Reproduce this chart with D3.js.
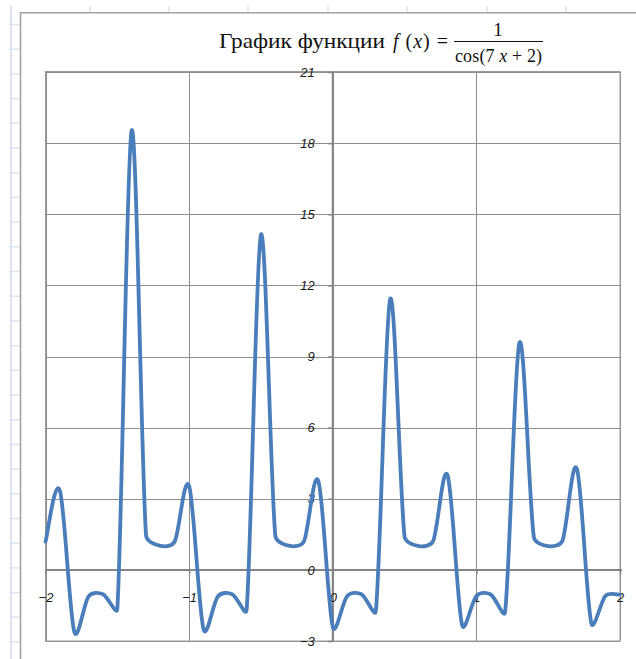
<!DOCTYPE html>
<html><head><meta charset="utf-8">
<script src="https://cdn.jsdelivr.net/npm/d3@7"></script>
<style>body{margin:0;background:#fff;}svg{display:block;}</style>
</head><body>
<svg id="c" width="636" height="659"></svg>
<script>
// Data: x step 0.1 from -2 to 2
const xValues = [-2,-1.9,-1.8,-1.7,-1.6,-1.5,-1.4,-1.3,-1.2,-1.1,-1,-0.9,-0.8,-0.7,-0.6,-0.5,-0.4,-0.3,-0.2,-0.1,0,0.1,0.2,0.3,0.4,0.5,0.6,0.7,0.8,0.9,1,1.1,1.2,1.3,1.4,1.5,1.6,1.7,1.8,1.9,2];
const yValues = [1.19,3.34,-2.60,-1.12,-1.03,-1.66,18.54,1.46,1.01,1.20,3.53,-2.50,-1.12,-1.03,-1.70,14.14,1.44,1.01,1.21,3.74,-2.40,-1.11,-1.03,-1.74,11.43,1.41,1.00,1.23,3.98,-2.32,-1.10,-1.04,-1.78,9.59,1.39,1.00,1.24,4.26,-2.24,-1.09,-1.04];
const yTicks = [-3,0,3,6,9,12,15,18,21];
const xTicks = [-2,-1,0,1,2];

const svg = d3.select("#c");

// spreadsheet background marks
const sheet = svg.append("g");
sheet.append("line").attr("x1",11).attr("x2",11).attr("y1",6).attr("y2",659)
  .attr("stroke","#dde3f0").attr("stroke-width",2);
d3.range(24.5, 659, 24.7).forEach(y=>{
  sheet.append("line").attr("x1",9).attr("x2",20).attr("y1",y).attr("y2",y)
    .attr("stroke","#dde3f0").attr("stroke-width",1.5);
});
[90,169,248,328,407,487,566].forEach(x=>{
  sheet.append("line").attr("x1",x).attr("x2",x).attr("y1",6).attr("y2",13)
    .attr("stroke","#dde3f0").attr("stroke-width",1.5);
});

// chart area border
svg.append("path").attr("d","M20.5,659 V12.75 H636")
  .attr("fill","none").attr("stroke","#a0a0a0").attr("stroke-width",1.5);

const x = d3.scaleLinear().domain([-2,2]).range([45.5,620]);
const y = d3.scaleLinear().domain([-3,21]).range([641,72]);

// gridlines
const grid = svg.append("g");
grid.selectAll(".hg").data(yTicks).join("line")
  .attr("x1",x(-2)).attr("x2",x(2)).attr("y1",d=>Math.round(y(d))+0.5).attr("y2",d=>Math.round(y(d))+0.5)
  .attr("stroke","#8e8e8e").attr("stroke-width",1);
grid.selectAll(".vg").data(xTicks).join("line")
  .attr("x1",d=>Math.round(x(d))+0.5).attr("x2",d=>Math.round(x(d))+0.5).attr("y1",y(21)).attr("y2",y(-3))
  .attr("stroke","#8e8e8e").attr("stroke-width",1);
// plot border
svg.append("rect").attr("x",45.5).attr("y",71.5).attr("width",x(2)-45.5).attr("height",y(-3)-71.5)
  .attr("fill","none").attr("stroke","#9a9a9a").attr("stroke-width",1);

// zero axes
svg.append("line").attr("x1",x(-2)).attr("x2",x(2)+2).attr("y1",y(0)).attr("y2",y(0))
  .attr("stroke","#848484").attr("stroke-width",2);
svg.append("line").attr("x1",x(0)).attr("x2",x(0)).attr("y1",y(21)).attr("y2",y(-3))
  .attr("stroke","#848484").attr("stroke-width",2);

// y axis (ticks + labels)
const yAxis = d3.axisLeft(y).tickValues(yTicks).tickSize(5).tickPadding(13).tickFormat(d3.format("d"));
const ya = svg.append("g").attr("transform",`translate(${x(0)},0)`).call(yAxis);
ya.select(".domain").remove();
ya.selectAll(".tick line").attr("stroke","#848484").attr("stroke-width",1.5);
ya.selectAll("text").attr("fill","#1a1a1a").attr("font-size",13).attr("font-style","italic")
  .attr("font-family","'Liberation Sans', Arial, sans-serif");

// x axis (ticks + labels)
const xAxis = d3.axisBottom(x).tickValues(xTicks).tickSize(4).tickPadding(19).tickFormat(d3.format("d"));
const xa = svg.append("g").attr("transform",`translate(0,${y(0)})`).call(xAxis);
xa.select(".domain").remove();
xa.selectAll(".tick line").attr("stroke","#848484").attr("stroke-width",1.5);
xa.selectAll("text").attr("fill","#1a1a1a").attr("font-size",13).attr("font-style","italic")
  .attr("font-family","'Liberation Sans', Arial, sans-serif");

// curve: Excel-like smoothed line (Bezier, tangents (P[i+1]-P[i-1])/6, limited by segment length)
const P = xValues.map((v,i)=>[x(v), y(yValues[i])]);
const n = P.length;
const T = P.map((p,i)=>{
  const a = P[Math.max(0,i-1)], b = P[Math.min(n-1,i+1)];
  return [(b[0]-a[0])/6, (b[1]-a[1])/6];
});
function clampVec(v, maxLen){
  const L = Math.hypot(v[0],v[1]);
  if (L > maxLen && L > 0) return [v[0]*maxLen/L, v[1]*maxLen/L];
  return v;
}
const path = d3.path();
path.moveTo(P[0][0], P[0][1]);
const K = 0.36;
for (let i=0;i<n-1;i++){
  const p0 = P[i], p1 = P[i+1];
  const segL = Math.hypot(p1[0]-p0[0], p1[1]-p0[1]);
  const a = clampVec(T[i], segL*K), b = clampVec(T[i+1], segL*K);
  path.bezierCurveTo(p0[0]+a[0], p0[1]+a[1], p1[0]-b[0], p1[1]-b[1], p1[0], p1[1]);
}
svg.append("path").attr("d",path.toString()).attr("fill","none")
  .attr("stroke","#4a7ebb").attr("stroke-width",3.8).attr("stroke-linejoin","round").attr("stroke-linecap","round");

// title
const t = svg.append("g").attr("font-family","'Liberation Serif','Times New Roman',serif").attr("fill","#111");
t.append("text").attr("x",219).attr("y",48).attr("font-size",21.5)
  .attr("textLength",166).attr("lengthAdjust","spacingAndGlyphs").text("График функции");
const fx = t.append("text").attr("x",393).attr("y",48).attr("font-size",20)
  .attr("textLength",55).attr("lengthAdjust","spacing");
fx.append("tspan").attr("font-style","italic").text("f");
fx.append("tspan").text(" (");
fx.append("tspan").attr("font-style","italic").text("x");
fx.append("tspan").text(") =");
t.append("text").attr("x",498).attr("y",36).attr("font-size",19).attr("text-anchor","middle").text("1");
t.append("line").attr("x1",454).attr("x2",543).attr("y1",41.5).attr("y2",41.5).attr("stroke","#111").attr("stroke-width",1);
const den = t.append("text").attr("x",455).attr("y",62).attr("font-size",18)
  .attr("textLength",87).attr("lengthAdjust","spacing");
den.append("tspan").text("cos(7");
den.append("tspan").attr("font-style","italic").text(" x");
den.append("tspan").text(" + 2)");
</script>
</body></html>
